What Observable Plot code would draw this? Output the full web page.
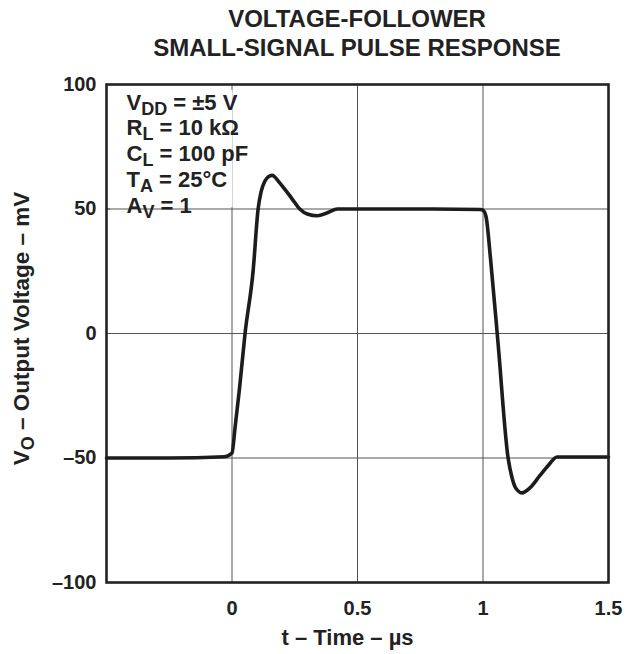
<!DOCTYPE html>
<html><head><meta charset="utf-8">
<script src="https://cdn.jsdelivr.net/npm/d3@7"></script>
<script src="https://cdn.jsdelivr.net/npm/@observablehq/plot@0.6"></script>
<style>
body{margin:0;background:#fff;font-family:"Liberation Sans",Arial,sans-serif;color:#222;}
#title{width:628px;height:60px;box-sizing:border-box;padding-left:86px;padding-top:4px;text-align:center;font-weight:bold;font-size:24px;line-height:29px;}
#chart svg{display:block;}
</style></head><body>
<div id="title">VOLTAGE-FOLLOWER<br>SMALL-SIGNAL PULSE RESPONSE</div>
<div id="chart"></div>
<script>
// Data
const time = [-0.5,-0.25,-0.03,0,0.012,0.03,0.052,0.084,0.104,0.116,0.13,0.145,0.16,0.19,0.21,0.24,0.27,0.30,0.34,0.38,0.42,0.6,0.8,0.99,1.0,1.012,1.03,1.06,1.1,1.116,1.13,1.155,1.187,1.227,1.26,1.295,1.4,1.5];
const vout = [-50,-50,-49.5,-48,-38,-22,0,25,50,57,61,63,63.5,60.5,58,54,50,48,47.3,48.5,50,50,50,49.8,49.5,47,30,-4,-50,-58,-62,-64,-62,-57,-53,-49.6,-49.6,-49.6];
const xDomain = [-0.5, 1.5];
const yDomain = [-100, 100];
const xTicks = [0, 0.5, 1, 1.5];
const yTicks = [-100, -50, 0, 50, 100];
const gridX = [0, 0.5, 1];
const gridY = [-50, 0, 50];
const condMain = ["V", "R", "C", "T", "A"];
const condSub = ["DD", "L", "L", "A", "V"];
const condRest = [" = ±5 V", " = 10 kΩ", " = 100 pF", " = 25°C", " = 1"];
const xLabel = "t – Time – µs";
const yLabel = ["V", "O", " – Output Voltage – mV"];

const data = time.map((t, i) => ({t, v: vout[i]}));
const ink = "#222";

const condMarks = condMain.map((m, i) => Plot.text([m + "|" + condSub[i] + "|" + condRest[i]], {
  frameAnchor: "top-left", dx: 20, dy: 25 + i * 25.8, lineAnchor: "bottom",
  textAnchor: "start", fontSize: 22, fontWeight: "bold", fill: ink
}));

const chart = Plot.plot({
  width: 628, height: 594,
  marginTop: 24, marginBottom: 72, marginLeft: 106, marginRight: 20,
  style: {fontFamily: "'Liberation Sans', Arial, sans-serif", color: ink, background: "white"},
  x: {domain: xDomain},
  y: {domain: yDomain},
  marks: [
    Plot.ruleX(gridX, {stroke: "#555", strokeWidth: 1}),
    Plot.ruleY(gridY, {stroke: "#555", strokeWidth: 1}),
    Plot.rect([0], {x1: xDomain[0], x2: 0.004, y1: 50.6, y2: 97.6, fill: "white"}),
    Plot.ruleY(gridY, {x1: xDomain[0], x2: xDomain[0] + 0.016, stroke: "#555", strokeWidth: 1}),
    Plot.line(data, {x: "t", y: "v", curve: "monotone-x", stroke: "#1c1c1c", strokeWidth: 3.6, strokeLinejoin: "round"}),
    Plot.frame({stroke: ink, strokeWidth: 2.6}),
    Plot.axisX({ticks: xTicks, tickSize: 0, tickPadding: 18, label: null, fontSize: 20, fontWeight: "bold", tickFormat: d => String(d)}),
    Plot.axisY({ticks: yTicks, tickSize: 0, tickPadding: 10, label: null, fontSize: 20, fontWeight: "bold", tickFormat: d => d < 0 ? "–" + Math.abs(d) : String(d)}),
    Plot.text([xLabel], {frameAnchor: "bottom", dx: -10, dy: 62, fontSize: 22, fontWeight: "bold", fill: ink}),
    Plot.text([yLabel.join("|")], {frameAnchor: "left", textAnchor: "middle", dx: -85, dy: -5, rotate: -90, fontSize: 22.5, fontWeight: "bold", fill: ink}),
    ...condMarks
  ]
});
document.getElementById("chart").append(chart);

// subscripts
chart.querySelectorAll("text").forEach(el => {
  if (!el.textContent.includes("|")) return;
  const parts = el.textContent.split("|");
  el.textContent = "";
  const ns = "http://www.w3.org/2000/svg";
  const a = document.createElementNS(ns, "tspan"); a.textContent = parts[0]; el.appendChild(a);
  const b = document.createElementNS(ns, "tspan"); b.textContent = parts[1];
  b.setAttribute("dy", "5"); b.setAttribute("font-size", "18"); el.appendChild(b);
  const c = document.createElementNS(ns, "tspan"); c.textContent = parts[2];
  c.setAttribute("dy", "-5"); el.appendChild(c);
});
</script>
</body></html>
